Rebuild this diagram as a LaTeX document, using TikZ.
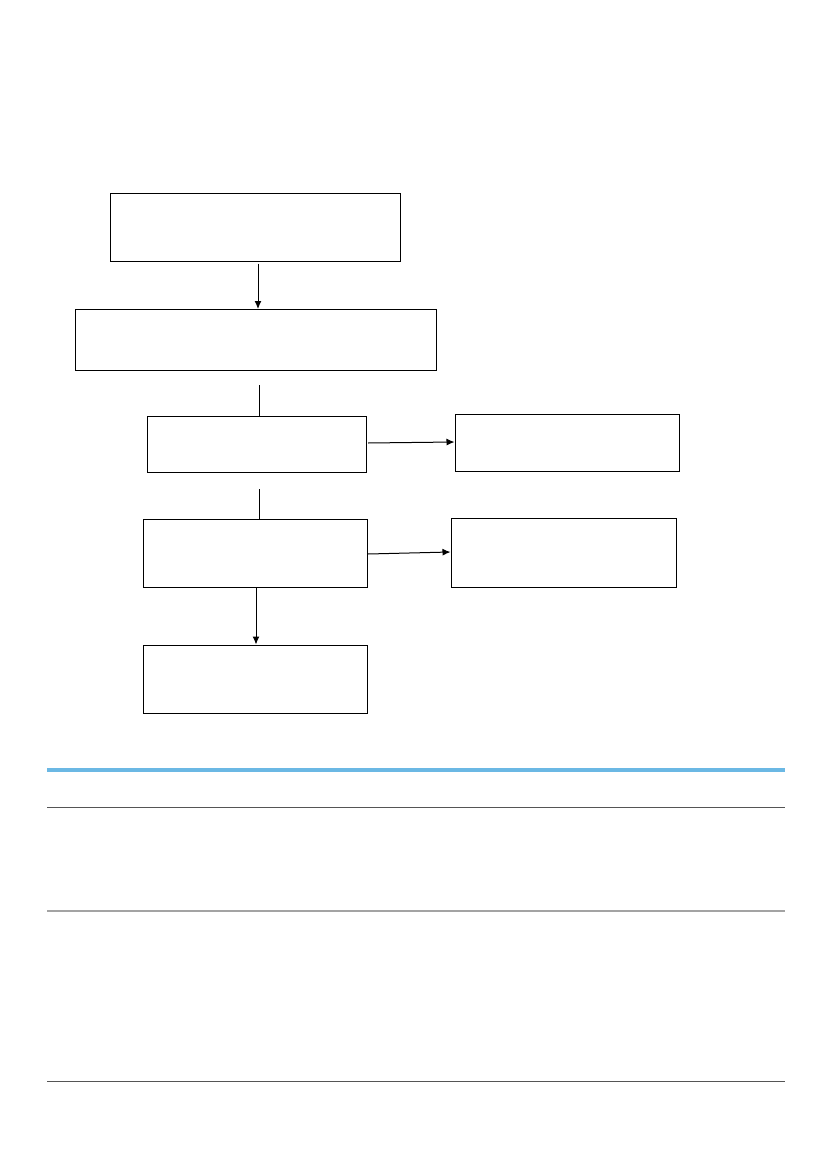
\documentclass[tikz,border=0pt]{standalone}
\usetikzlibrary{arrows.meta}
\definecolor{tblblue}{HTML}{6BB8E4}
\definecolor{tbldark}{HTML}{555555}
\definecolor{tblgray}{HTML}{A3A3A3}
\begin{document}
\begin{tikzpicture}[x=1pt,y=-1pt,
  flowbox/.style={draw=black,line width=1pt,inner sep=0pt},
  conn/.style={draw=black,line width=1pt},
  arr/.style={conn,-{Latex[length=8pt,width=7pt]}}]
\useasboundingbox (0,0) rectangle (827,1169);
% boxes (drawn by corners)
\node[flowbox,minimum width=290pt,minimum height=67pt] (b1) at (255,227.5) {};
\node[flowbox,minimum width=361pt,minimum height=61pt] (b2) at (255.5,339.5) {};
\node[flowbox,minimum width=219pt,minimum height=56pt] (b3) at (256.5,444) {};
\node[flowbox,minimum width=224pt,minimum height=57pt] (b4) at (567,442.5) {};
\node[flowbox,minimum width=224pt,minimum height=68pt] (b5) at (255,553) {};
\node[flowbox,minimum width=225pt,minimum height=69pt] (b6) at (563.5,552.5) {};
\node[flowbox,minimum width=224pt,minimum height=68pt] (b7) at (255,679) {};
% connectors
\coordinate (c1) at (259,385);
\coordinate (c2) at (259,489);
\draw[arr] (b1.south -| 258,0) ++(0,2) -- (258,309);
\draw[conn] (c1) -- (c1 |- b3.north);
\draw[conn] (c2) -- (c2 |- b5.north);
\draw[arr] (368,443) -- (b4.west |- 0,442);
\draw[arr] (368,554) -- (b6.west |- 0,552);
\draw[arr] (b5.south -| 256,0) -- (b7.north -| 256,0);
% table rules
\coordinate (tl) at (47,770);
\coordinate (tr) at (785,770);
\draw[tblblue,line width=4pt] (tl) -- (tr);
\draw[tbldark,line width=1pt] (47,807) -- (785,807);
\draw[tblgray,line width=2pt] (47,911) -- (785,911);
\draw[tbldark,line width=1pt] (47,1081) -- (785,1081);
\end{tikzpicture}
\end{document}
